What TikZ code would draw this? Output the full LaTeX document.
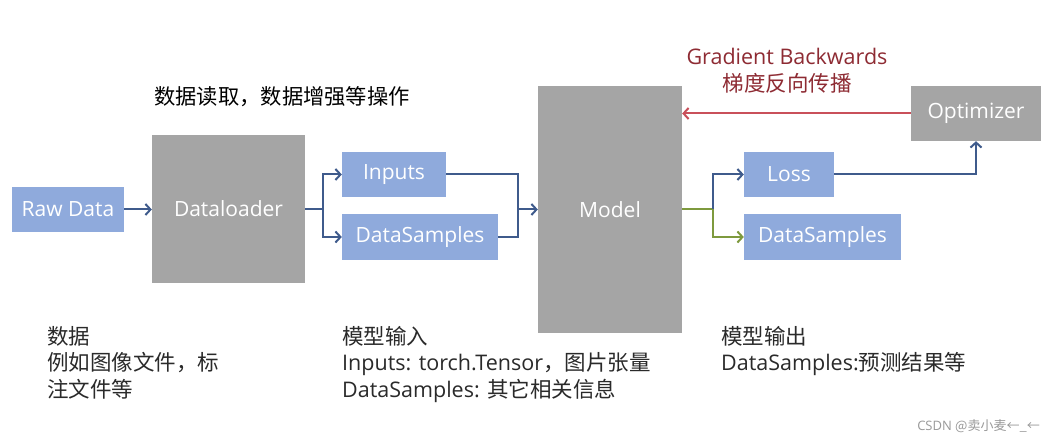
\documentclass[tikz,border=0pt]{standalone}
\usepackage{fontspec}
\setmainfont{Open Sans}
\newfontfamily\cjk{Noto Sans CJK SC}
\usetikzlibrary{arrows.meta}
\definecolor{boxblue}{HTML}{8FAADC}
\definecolor{boxgray}{HTML}{A5A5A5}
\definecolor{lineblue}{HTML}{3F5B8C}
\definecolor{linegreen}{HTML}{7E9A3E}
\definecolor{linered}{HTML}{C9505A}
\definecolor{textred}{HTML}{8E2B33}
\definecolor{txt}{HTML}{2A2A2A}
\tikzset{
  bluebox/.style={draw=none,fill=boxblue,text=white,inner sep=0pt,font=\fontsize{21}{25}\selectfont},
  graybox/.style={draw=none,fill=boxgray,text=white,inner sep=0pt,font=\fontsize{21}{25}\selectfont},
  conn/.style={line width=2pt,-{Straight Barb[length=5pt,width=11pt,line width=2pt]}},
  plain/.style={line width=2pt},
  note/.style={anchor=north west,align=left,inner sep=0pt,text=txt,font=\fontsize{21.5}{26.5}\selectfont},
}
\begin{document}
\begin{tikzpicture}[x=1pt,y=-1pt]
\useasboundingbox (0,0) rectangle (1053,443);
\fill[white] (0,0) rectangle (1053,443);
% boxes
\node[bluebox,minimum width=112pt,minimum height=45pt] (raw) at (68,209.5) {Raw Data};
\node[graybox,minimum width=153pt,minimum height=148pt] (loader) at (228.5,209) {Dataloader};
\node[bluebox,minimum width=104pt,minimum height=45pt] (inputs) at (394,174.5) {Inputs};
\node[bluebox,minimum width=156pt,minimum height=46pt] (dsin) at (420,237) {DataSamples};
\node[graybox,minimum width=144pt,minimum height=247pt] (model) at (610,209.5) {Model};
\node[graybox,minimum width=130pt,minimum height=55pt] (opt) at (976,113.5) {Optimizer};
\node[bluebox,minimum width=90pt,minimum height=45pt] (loss) at (789,174.5) {Loss};
\node[bluebox,minimum width=157pt,minimum height=46pt] (dsout) at (822.5,237) {DataSamples};
% junctions
\coordinate (s1) at (323,209.5);
\coordinate (m1) at (518,209.5);
\coordinate (s2) at (713,209.5);
% connectors
\draw[conn,lineblue] (raw.east) -- (loader.west |- raw.east);
\draw[plain,lineblue] (loader.east |- s1) -- (s1);
\draw[conn,lineblue] (s1) |- (inputs.west);
\draw[conn,lineblue] (s1) |- (dsin.west);
\draw[plain,lineblue] (inputs.east) -| (m1);
\draw[plain,lineblue] (dsin.east) -| (m1);
\draw[conn,lineblue] (m1) -- (model.west |- m1);
\draw[plain,linegreen] (model.east |- s2) -- (s2);
\draw[conn,linegreen] (s2) |- (dsout.west);
\draw[conn,lineblue] (s2) |- (loss.west);
\draw[conn,lineblue] (loss.east) -| (opt.south);
\draw[conn,linered] (opt.west) -- (model.east |- opt.west);
% labels
\node[text=textred,align=center,inner sep=0pt,font=\fontsize{21.5}{27}\selectfont] (grad) at (787,71) {Gradient Backwards\\{\cjk 梯度反向传播}};
\node[inner sep=0pt,text=black,font=\fontsize{21.3}{25}\selectfont\cjk] (ops) at (282,97) {数据读取，数据增强等操作};
\node[note] (n1) at (47,326) {{\cjk 数据}\\{\cjk 例如图像文件，标}\\{\cjk 注文件等}};
\node[note] (n2) at (342,326) {{\cjk 模型输入}\\Inputs: torch.Tensor{\cjk ，图片张量}\\DataSamples: {\cjk 其它相关信息}};
\node[note] (n3) at (721,326) {{\cjk 模型输出}\\DataSamples:{\cjk 预测结果等}};
\node[anchor=east,inner sep=0pt,text=gray!80,font=\fontsize{13}{15}\selectfont] (wm) at (1040,426) {CSDN {\cjk @卖小麦←\_←}};
\end{tikzpicture}
\end{document}
